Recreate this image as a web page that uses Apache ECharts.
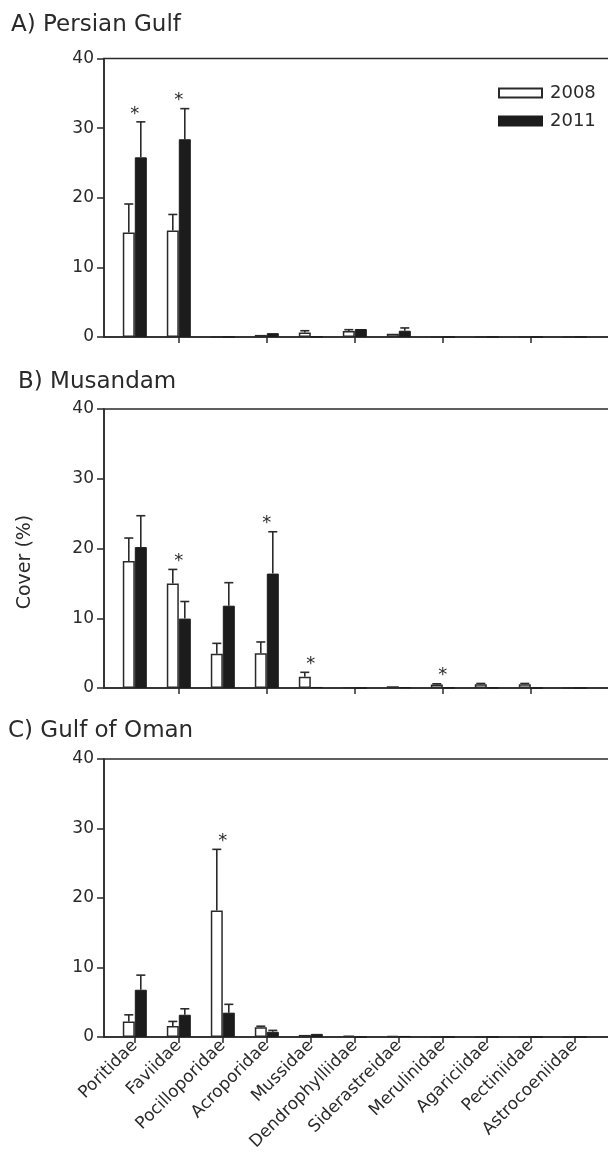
<!DOCTYPE html>
<html>
<head>
<meta charset="utf-8">
<script src="https://cdn.jsdelivr.net/npm/echarts@6/dist/echarts.min.js"></script>
<style>
  html, body { margin: 0; padding: 0; background: #fff; }
  #chart { width: 608px; height: 1155px; }
</style>
</head>
<body>
<div id="chart"></div>
<script>
const families = ['Poritidae', 'Faviidae', 'Pocilloporidae', 'Acroporidae', 'Mussidae',
  'Dendrophylliidae', 'Siderastreidae', 'Merulinidae', 'Agariciidae', 'Pectiniidae', 'Astrocoeniidae'];
const years = ['2008', '2011'];
const yTicks = [0, 10, 20, 30, 40];

// A) Persian Gulf
const gulf2008 = [15.0, 15.3, 0, 0.3, 0.65, 0.85, 0.45, 0, 0, 0, 0];
const gulf2008Err = [4.1, 2.3, 0, 0, 0.25, 0.2, 0, 0, 0, 0, 0];
const gulf2011 = [25.8, 28.4, 0, 0.55, 0.05, 1.15, 0.9, 0, 0, 0, 0];
const gulf2011Err = [5.1, 4.4, 0, 0, 0, 0, 0.4, 0, 0, 0, 0];
const gulfSig = [0, 1];

// B) Musandam
const mus2008 = [18.2, 15.0, 4.9, 5.0, 1.6, 0.1, 0.25, 0.5, 0.55, 0.55, 0];
const mus2008Err = [3.3, 2.0, 1.5, 1.6, 0.65, 0, 0, 0.1, 0.1, 0.1, 0];
const mus2011 = [20.2, 9.95, 11.8, 16.4, 0.15, 0, 0.1, 0.05, 0.05, 0, 0];
const mus2011Err = [4.5, 2.45, 3.3, 6.0, 0, 0, 0, 0, 0, 0, 0];
const musSig = [1, 3, 4, 7];

// C) Gulf of Oman
const oman2008 = [2.24, 1.57, 18.2, 1.4, 0.3, 0.2, 0.15, 0, 0, 0, 0];
const oman2008Err = [0.95, 0.67, 8.8, 0.15, 0, 0, 0, 0, 0, 0, 0];
const oman2011 = [6.8, 3.2, 3.5, 0.75, 0.45, 0, 0.15, 0, 0, 0, 0];
const oman2011Err = [2.1, 0.86, 1.2, 0.2, 0, 0, 0, 0, 0, 0, 0];
const omanSig = [2];

const panels = [
  { title: 'A) Persian Gulf', tx: 11, ty: 27, top: 58.5, bottom: 337,
    v08: gulf2008, e08: gulf2008Err, v11: gulf2011, e11: gulf2011Err, sig: gulfSig },
  { title: 'B) Musandam', tx: 18, ty: 384, top: 409, bottom: 688,
    v08: mus2008, e08: mus2008Err, v11: mus2011, e11: mus2011Err, sig: musSig },
  { title: 'C) Gulf of Oman', tx: 8, ty: 733, top: 759, bottom: 1037,
    v08: oman2008, e08: oman2008Err, v11: oman2011, e11: oman2011Err, sig: omanSig }
];

const FONT = '"DejaVu Sans", sans-serif';
const INK = '#2a2a2a';
const BAR_W = 12;
const idx = families.map((f, i) => i);

const chart = echarts.init(document.getElementById('chart'));

const grid = [], xAxis = [], yAxis = [], series = [], graphic = [];

panels.forEach((p, k) => {
  const last = k === panels.length - 1;
  grid.push({
    left: 104, width: 528, top: p.top, height: p.bottom - p.top,
    outerBoundsMode: 'none', containLabel: false,
    show: true, borderColor: INK, borderWidth: 1.5, backgroundColor: 'transparent'
  });
  xAxis.push({
    type: 'value', gridIndex: k, min: -0.7, max: 11.3,
    splitLine: { show: false },
    axisLine: { show: true, onZero: false, lineStyle: { color: INK, width: 1.5 } },
    axisTick: {
      show: true, length: 6, lineStyle: { color: INK, width: 1.5 },
      customValues: last ? idx : idx.filter(i => i % 2 === 1)
    },
    axisLabel: {
      show: last, customValues: idx, rotate: 45, margin: 6,
      fontFamily: FONT, fontSize: 17, color: INK,
      formatter: v => families[Math.round(v)]
    }
  });
  yAxis.push({
    type: 'value', gridIndex: k, min: 0, max: 40, interval: 10,
    splitLine: { show: false },
    axisLine: { show: true, onZero: false, lineStyle: { color: INK, width: 1.5 } },
    axisTick: { show: true, length: 7, lineStyle: { color: INK, width: 1.5 } },
    axisLabel: { margin: 10, fontFamily: FONT, fontSize: 17, color: INK,
      formatter: v => yTicks.includes(v) ? String(v) : '' }
  });

  series.push({
    name: years[0], type: 'bar', xAxisIndex: k, yAxisIndex: k,
    barWidth: BAR_W, barGap: '0%',
    itemStyle: { color: '#fff', borderColor: INK, borderWidth: 1.5 },
    data: p.v08.map((v, i) => [i, v])
  });
  series.push({
    name: years[1], type: 'bar', xAxisIndex: k, yAxisIndex: k,
    barWidth: BAR_W, barGap: '0%',
    itemStyle: { color: '#1c1c1c', borderColor: '#1c1c1c', borderWidth: 1 },
    data: p.v11.map((v, i) => [i, v])
  });

  // error bars (upper half only)
  const errData = [];
  p.v08.forEach((v, i) => { if (p.e08[i] > 0) errData.push([i, v, p.e08[i], -1]); });
  p.v11.forEach((v, i) => { if (p.e11[i] > 0) errData.push([i, v, p.e11[i], 1]); });
  series.push({
    type: 'custom', xAxisIndex: k, yAxisIndex: k, z: 5, silent: true,
    data: errData,
    renderItem: (params, api) => {
      const b = api.coord([api.value(0), api.value(1)]);
      const t = api.coord([api.value(0), api.value(1) + api.value(2)]);
      const x = b[0] + api.value(3) * BAR_W / 2;
      const st = { stroke: INK, lineWidth: 1.6 };
      return {
        type: 'group',
        children: [
          { type: 'line', shape: { x1: x, y1: b[1], x2: x, y2: t[1] }, style: st },
          { type: 'line', shape: { x1: x - 4.5, y1: t[1], x2: x + 4.5, y2: t[1] }, style: st }
        ]
      };
    }
  });

  // significance asterisks
  series.push({
    type: 'custom', xAxisIndex: k, yAxisIndex: k, z: 6, silent: true,
    data: p.sig.map(i => [i, Math.max(p.v08[i] + p.e08[i], p.v11[i] + p.e11[i])]),
    renderItem: (params, api) => {
      const c = api.coord([api.value(0), api.value(1)]);
      return {
        type: 'text',
        style: { text: '*', x: c[0], y: c[1] - 8, align: 'center', verticalAlign: 'middle',
          font: '18px ' + FONT, fill: INK }
      };
    }
  });

  graphic.push({
    type: 'text', left: p.tx, top: p.ty - 13,
    style: { text: p.title, font: '23px ' + FONT, fill: INK }
  });
});

graphic.push({
  type: 'text', x: 25, y: 562, rotation: Math.PI / 2,
  style: { text: 'Cover (%)', font: '19px ' + FONT, fill: INK, align: 'center', verticalAlign: 'middle' }
});

chart.setOption({
  animation: false,
  backgroundColor: '#fff',
  grid, xAxis, yAxis, series, graphic,
  legend: {
    data: years, orient: 'vertical', left: 498, top: 84, itemGap: 10, padding: 0,
    itemWidth: 43, itemHeight: 9, icon: 'rect',
    textStyle: { fontFamily: FONT, fontSize: 18, color: INK, padding: [0, 0, 0, 3] },
    selectedMode: false
  }
});
</script>
</body>
</html>
